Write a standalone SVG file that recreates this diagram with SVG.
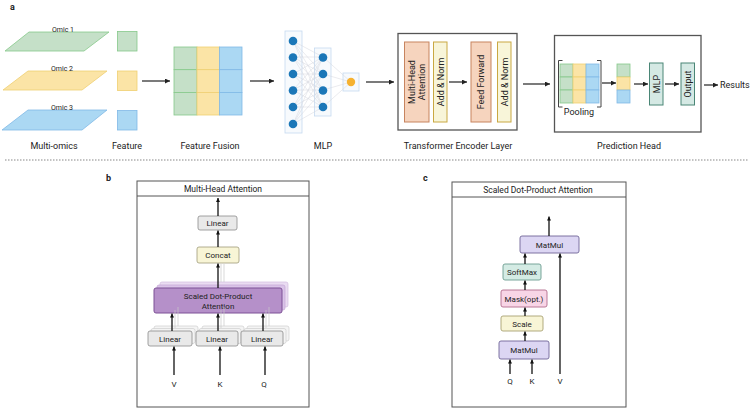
<svg xmlns="http://www.w3.org/2000/svg" width="753" height="418" viewBox="0 0 753 418">
<defs>
<marker id="ah" viewBox="0 0 6 6" refX="6" refY="3" markerWidth="5" markerHeight="5" markerUnits="userSpaceOnUse" orient="auto"><path d="M0,0L6,3L0,6z" fill="#222"/></marker>
<marker id="ahs" viewBox="0 0 6 6" refX="6" refY="3" markerWidth="4" markerHeight="4.5" markerUnits="userSpaceOnUse" orient="auto"><path d="M0,0L6,3L0,6z" fill="#111"/></marker>
</defs>
<style>
text{font-family:Roboto,"Liberation Sans",sans-serif;fill:#222}
.lab{font-size:9px;text-anchor:middle}
.om{font-size:7px;text-anchor:middle}
.bx{font-size:8px;text-anchor:middle}
.rt{font-size:9px;text-anchor:middle}
.ar{stroke:#222;stroke-width:1.2;fill:none;marker-end:url(#ah)}
.as{stroke:#111;stroke-width:1.3;fill:none;marker-end:url(#ahs)}
.g{fill:#c5e0c8;stroke:#86c98a;stroke-width:0.8}
.y{fill:#fbe4a6;stroke:#efcf72;stroke-width:0.8}
.b{fill:#abd8f3;stroke:#80b9e6;stroke-width:0.8}
.nn{fill:#1b77b8}
.ly{fill:#f7fafd;stroke:#c6daf0;stroke-width:0.8}
.cn{stroke:#d4d7df;stroke-width:0.5}
.mha{fill:#f6d4be;stroke:#c7845f;stroke-width:1}
.an{fill:#f8f5d9;stroke:#c9a842;stroke-width:1}
.tl{fill:#d5e9e4;stroke:#4a8676;stroke-width:1}
.fr{fill:#fff;stroke:#555;stroke-width:1}
.lin{fill:#e9e9e9;stroke:#8a8a8a;stroke-width:0.8}
.lsh{fill:#f4f4f4;stroke:#cfcfcf;stroke-width:0.7}
.fa{stroke:#c8c8c8;stroke-width:0.7;fill:none}
</style>
<rect width="753" height="418" fill="#fff"/>

<text x="10" y="10" style="font-size:9px;font-weight:bold">a</text>

<g id="multiomics">
<polygon class="g" points="29,32 109,32 84,51 5,51"/>
<text class="om" x="63" y="31.5">Omic 1</text>
<polygon class="y" points="28,71 107,71 82,90 3,90"/>
<text class="om" x="62" y="70.5">Omic 2</text>
<polygon class="b" points="28,110 107,110 82,130 2,130"/>
<text class="om" x="62" y="109.5">Omic 3</text>
<text class="lab" x="54" y="149">Multi-omics</text>
</g>

<g id="feature">
<rect class="g" x="117.5" y="31.5" width="19.5" height="19.5"/>
<rect class="y" x="117.5" y="71" width="19.5" height="19.5"/>
<rect class="b" x="117.5" y="110.5" width="19.5" height="19.5"/>
<text class="lab" x="127" y="149">Feature</text>
</g>

<g id="feature-fusion">
<rect class="g" x="174" y="47" width="23" height="22.7"/>
<rect class="g" x="174" y="69.7" width="23" height="22.7"/>
<rect class="g" x="174" y="92.4" width="23" height="22.6"/>
<rect class="y" x="197" y="47" width="22.5" height="22.7"/>
<rect class="y" x="197" y="69.7" width="22.5" height="22.7"/>
<rect class="y" x="197" y="92.4" width="22.5" height="22.6"/>
<rect class="b" x="219.5" y="47" width="22.5" height="22.7"/>
<rect class="b" x="219.5" y="69.7" width="22.5" height="22.7"/>
<rect class="b" x="219.5" y="92.4" width="22.5" height="22.6"/>
<text class="lab" x="210" y="149">Feature Fusion</text>
</g>

<g id="mlp">
<rect class="ly" x="285" y="31" width="17" height="102"/>
<rect class="ly" x="314.5" y="48" width="16.5" height="68"/>
<rect class="ly" x="343" y="73" width="16" height="18"/>
<g class="cn">
<path d="M293,41L323,57M293,41L323,74M293,41L323,90M293,41L323,107
M293,57L323,57M293,57L323,74M293,57L323,90M293,57L323,107
M293,74L323,57M293,74L323,74M293,74L323,90M293,74L323,107
M293,90L323,57M293,90L323,74M293,90L323,90M293,90L323,107
M293,107L323,57M293,107L323,74M293,107L323,90M293,107L323,107
M293,124L323,57M293,124L323,74M293,124L323,90M293,124L323,107
M323,57L351,82M323,74L351,82M323,90L351,82M323,107L351,82"/>
</g>
<circle class="nn" cx="293" cy="41" r="4.3"/>
<circle class="nn" cx="293" cy="57.5" r="4.3"/>
<circle class="nn" cx="293" cy="74" r="4.3"/>
<circle class="nn" cx="293" cy="90.5" r="4.3"/>
<circle class="nn" cx="293" cy="107" r="4.3"/>
<circle class="nn" cx="293" cy="124" r="4.3"/>
<circle class="nn" cx="323" cy="57.5" r="4.3"/>
<circle class="nn" cx="323" cy="74" r="4.3"/>
<circle class="nn" cx="323" cy="90.5" r="4.3"/>
<circle class="nn" cx="323" cy="107" r="4.3"/>
<circle cx="351" cy="82" r="4.2" fill="#f6b231"/>
<text class="lab" x="323" y="149">MLP</text>
</g>

<g id="transformer-encoder">
<rect x="398" y="33.5" width="119" height="96.5" fill="#fff" stroke="#555" stroke-width="1.3"/>
<rect class="mha" x="404.5" y="42" width="24.5" height="80"/>
<text class="rt" transform="translate(416.5,82) rotate(-90)"><tspan x="0" y="-1.8">Multi-Head</tspan><tspan x="0" y="8.2">Attention</tspan></text>
<rect class="an" x="433.5" y="42" width="13.5" height="80"/>
<text class="rt" transform="translate(440.3,82) rotate(-90)" y="3.2">Add &amp; Norm</text>
<rect class="mha" x="471" y="42" width="20" height="80"/>
<text class="rt" transform="translate(481,82) rotate(-90)" y="3.2">Feed Forward</text>
<rect class="an" x="497.5" y="42" width="13.5" height="80"/>
<text class="rt" transform="translate(504.3,82) rotate(-90)" y="3.2">Add &amp; Norm</text>
<text class="lab" x="458" y="149">Transformer Encoder Layer</text>
</g>

<g id="prediction-head">
<rect x="554.5" y="35.5" width="146.5" height="96.5" fill="#fff" stroke="#555" stroke-width="1.3"/>
<rect class="g" x="560" y="64" width="13" height="13"/>
<rect class="g" x="560" y="77" width="13" height="13"/>
<rect class="g" x="560" y="90" width="13" height="13"/>
<rect class="y" x="573" y="64" width="13" height="13"/>
<rect class="y" x="573" y="77" width="13" height="13"/>
<rect class="y" x="573" y="90" width="13" height="13"/>
<rect class="b" x="586" y="64" width="13" height="13"/>
<rect class="b" x="586" y="77" width="13" height="13"/>
<rect class="b" x="586" y="90" width="13" height="13"/>
<path d="M562.5,60.5H558.5V107H562.5M597,60.5H601V107H597" fill="none" stroke="#444" stroke-width="1"/>
<text class="lab" x="579" y="115">Pooling</text>
<rect class="g" x="617" y="64" width="13" height="13"/>
<rect class="y" x="617" y="77" width="13" height="13"/>
<rect class="b" x="617" y="90" width="13" height="13"/>
<rect class="tl" x="649.5" y="63" width="13.5" height="42"/>
<text class="rt" transform="translate(656.3,84) rotate(-90)" y="3.2">MLP</text>
<rect class="tl" x="681" y="63" width="13.5" height="42"/>
<text class="rt" transform="translate(687.8,84) rotate(-90)" y="3.2">Output</text>
<text class="lab" x="629" y="149">Prediction Head</text>
</g>

<g id="results">
<text x="720" y="88" style="font-size:9px">Results</text>
</g>

<g id="connectors-a">
<line class="ar" x1="142" y1="81" x2="170" y2="81"/>
<line class="ar" x1="250" y1="81" x2="274" y2="81"/>
<line class="ar" x1="366" y1="82" x2="394" y2="82"/>
<line class="ar" x1="449" y1="82" x2="467" y2="82"/>
<line class="ar" x1="523" y1="84" x2="550" y2="84"/>
<line class="ar" x1="602" y1="83" x2="616" y2="83"/>
<line class="ar" x1="634" y1="84" x2="648" y2="84"/>
<line class="ar" x1="665" y1="84" x2="679" y2="84"/>
<line class="ar" x1="704" y1="85" x2="718" y2="85"/>
</g>

<line x1="5" y1="160" x2="748" y2="160" stroke="#888" stroke-width="1.2" stroke-dasharray="1.5 1.5"/>

<text x="106" y="181" style="font-size:9px;font-weight:bold">b</text>
<text x="423" y="181" style="font-size:9px;font-weight:bold">c</text>

<g id="multi-head-attention">
<rect class="fr" x="137" y="181" width="172" height="226"/>
<line x1="137" y1="196" x2="309" y2="196" stroke="#555" stroke-width="1"/>
<text class="bx" x="223" y="192" style="font-size:8.5px">Multi-Head Attention</text>

<g id="b-linear-top">
<rect class="lin" x="198" y="216" width="39" height="14" rx="2"/>
<text class="bx" x="217.5" y="226">Linear</text>
</g>
<g id="b-concat">
<rect x="197" y="247" width="42" height="16" rx="2" fill="#f8f5d6" stroke="#9e9a78" stroke-width="0.8"/>
<text class="bx" x="218" y="258">Concat</text>
</g>
<g id="b-sdpa">
<rect x="160" y="282" width="128" height="25" rx="2" fill="#eadcf2" stroke="#d2bde0" stroke-width="0.7"/>
<rect x="157" y="285" width="128" height="25" rx="2" fill="#dac4e8" stroke="#c4a7d6" stroke-width="0.7"/>
<rect x="154" y="288" width="128" height="25" rx="2" fill="#b590c9" stroke="#7d5096" stroke-width="1"/>
<text class="bx" x="218" y="299">Scaled Dot-Product</text>
<text class="bx" x="218" y="309">Attention</text>
</g>
<g id="b-linear-v">
<rect class="lsh" x="154" y="326" width="44" height="15" rx="2"/>
<rect class="lsh" x="151" y="328.5" width="44" height="15" rx="2"/>
<rect class="lin" x="148" y="331" width="44" height="15" rx="2"/>
<text class="bx" x="170" y="341.5">Linear</text>
</g>
<g id="b-linear-k">
<rect class="lsh" x="202" y="326" width="42" height="15" rx="2"/>
<rect class="lsh" x="199" y="328.5" width="42" height="15" rx="2"/>
<rect class="lin" x="196" y="331" width="42" height="15" rx="2"/>
<text class="bx" x="217" y="341.5">Linear</text>
</g>
<g id="b-linear-q">
<rect class="lsh" x="247" y="326" width="42" height="15" rx="2"/>
<rect class="lsh" x="244" y="328.5" width="42" height="15" rx="2"/>
<rect class="lin" x="241" y="331" width="42" height="15" rx="2"/>
<text class="bx" x="262" y="341.5">Linear</text>
</g>
<text class="bx" x="174" y="387">V</text>
<text class="bx" x="220" y="387">K</text>
<text class="bx" x="264" y="387">Q</text>
</g>

<g id="connectors-b">
<path class="fa" d="M221,282V264M224,282V264M175,328V310M178,326V307M221,328V310M224,326V307M266,328V310M269,326V307"/>
<line class="as" x1="218" y1="216" x2="218" y2="198"/>
<line class="as" x1="218" y1="247" x2="218" y2="230.5"/>
<line class="as" x1="218" y1="288" x2="218" y2="263.5"/>
<line class="as" x1="172" y1="331" x2="172" y2="313.5"/>
<line class="as" x1="218" y1="331" x2="218" y2="313.5"/>
<line class="as" x1="263" y1="331" x2="263" y2="313.5"/>
<line class="as" x1="174" y1="375" x2="174" y2="346.5"/>
<line class="as" x1="220" y1="375" x2="220" y2="346.5"/>
<line class="as" x1="265" y1="375" x2="265" y2="346.5"/>
</g>

<g id="scaled-dot-product-attention">
<rect class="fr" x="452" y="182" width="174" height="225"/>
<line x1="452" y1="197" x2="626" y2="197" stroke="#555" stroke-width="1"/>
<text class="bx" x="538" y="192.5" style="font-size:8.5px">Scaled Dot-Product Attention</text>
<g id="c-matmul-top">
<rect x="520" y="236" width="59" height="17" rx="2" fill="#dcd6f3" stroke="#6f6597" stroke-width="0.9"/>
<text class="bx" x="549.5" y="247.5">MatMul</text>
</g>
<g id="c-softmax">
<rect x="503" y="264" width="38" height="16" rx="2" fill="#d4ebe4" stroke="#6c9c90" stroke-width="0.9"/>
<text class="bx" x="522" y="275">SoftMax</text>
</g>
<g id="c-mask">
<rect x="501" y="290" width="46" height="17" rx="2" fill="#f8d5e6" stroke="#b26c8c" stroke-width="0.9"/>
<text class="bx" x="524" y="301.5">Mask(opt.)</text>
</g>
<g id="c-scale">
<rect x="501" y="316" width="42" height="15" rx="2" fill="#f8f5d6" stroke="#a8a273" stroke-width="0.9"/>
<text class="bx" x="522" y="326.5">Scale</text>
</g>
<g id="c-matmul-bottom">
<rect x="499" y="341" width="50" height="18" rx="2" fill="#dcd6f3" stroke="#6f6597" stroke-width="0.9"/>
<text class="bx" x="524" y="353">MatMul</text>
</g>
<text class="bx" x="510" y="384">Q</text>
<text class="bx" x="532" y="384">K</text>
<text class="bx" x="560" y="384">V</text>
</g>

<g id="connectors-c">
<line class="as" x1="549" y1="236" x2="549" y2="216.5"/>
<line class="as" x1="525" y1="264" x2="525" y2="253.5"/>
<line class="as" x1="560" y1="374" x2="560" y2="253.5"/>
<line class="as" x1="525" y1="290" x2="525" y2="280.5"/>
<line class="as" x1="525" y1="316" x2="525" y2="307.5"/>
<line class="as" x1="525" y1="341" x2="525" y2="331.5"/>
<line class="as" x1="510" y1="374" x2="510" y2="359.5"/>
<line class="as" x1="532" y1="374" x2="532" y2="359.5"/>
</g>
</svg>
